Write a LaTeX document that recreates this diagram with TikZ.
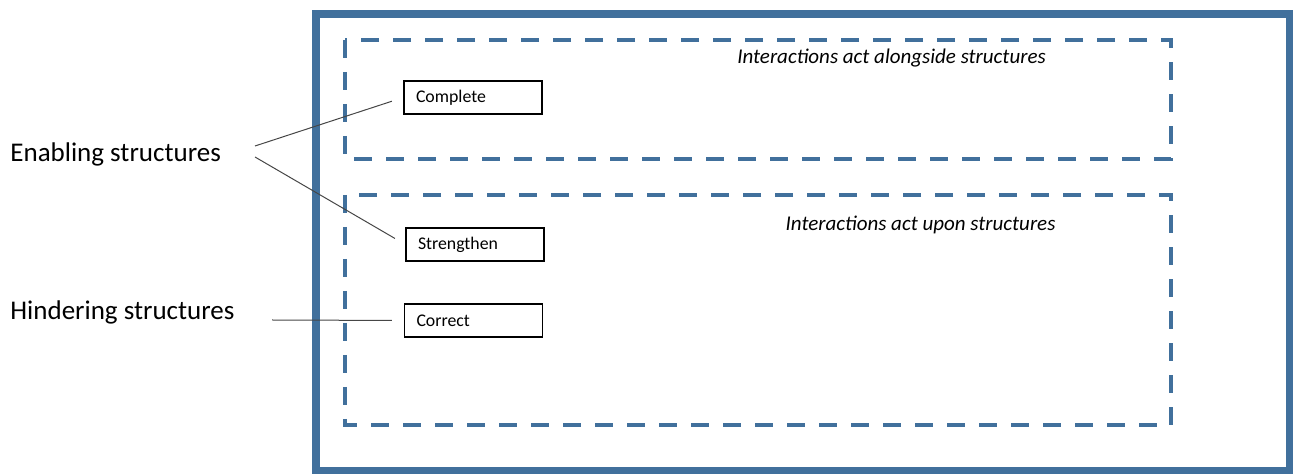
\documentclass[tikz,border=0pt]{standalone}
\usepackage{fontspec}
\setmainfont{Carlito}
\usetikzlibrary{positioning,calc}
\definecolor{frame}{RGB}{65,112,156}
\definecolor{wire}{RGB}{70,70,70}

\begin{document}
\begin{tikzpicture}[
  x=0.5pt, y=-0.5pt,
  outer/.style={draw=frame, line width=4pt},
  zone/.style={draw=frame, line width=2pt, dash pattern=on 9pt off 7pt},
  act/.style={draw=black, line width=0.7pt, minimum height=16.5pt, text width=57pt, inner xsep=6pt, align=left, font=\fontsize{8.9}{10}\selectfont},
  side/.style={anchor=west, inner sep=0pt, font=\fontsize{13.5}{16}\selectfont},
  ztxt/.style={font=\fontsize{10.5}{12}\selectfont\itshape},
  wirel/.style={draw=wire, line width=0.5pt, shorten >=6pt}
]
\useasboundingbox (0,0) rectangle (1293,474);

% ---------------- FRAME AND ZONES ----------------
\draw[outer] (316,14) rectangle (1290,471);
\draw[zone] (345,40) rectangle (1171,159);
\draw[zone] (345,195) rectangle (1171,425);
\node[ztxt] (zAlong) at (891.5,58) {Interactions act alongside structures};
\node[ztxt] (zUpon) at (920.5,225) {Interactions act upon structures};

% ---------------- ACTIONS ----------------
\node (complete) at (473,97.5) [act] {Complete};
\node (strengthen) at (475,244.5) [act] {Strengthen};
\node (correct) at (473.5,320.5) [act] {Correct};

% ---------------- STRUCTURES ----------------
\node (enab) at (10,154) [side] {Enabling structures};
\node (hind) at (10,312) [side] {Hindering structures};
\coordinate (enabA) at (255,146);
\coordinate (enabB) at (255,157);
\coordinate (hindA) at (272,320);
\draw[wirel] (enabA) -- (complete.west);
\draw[wirel] (enabB) -- (strengthen.west);
\draw[wirel] (hindA) -- (correct.west);

\end{tikzpicture}
\end{document}
